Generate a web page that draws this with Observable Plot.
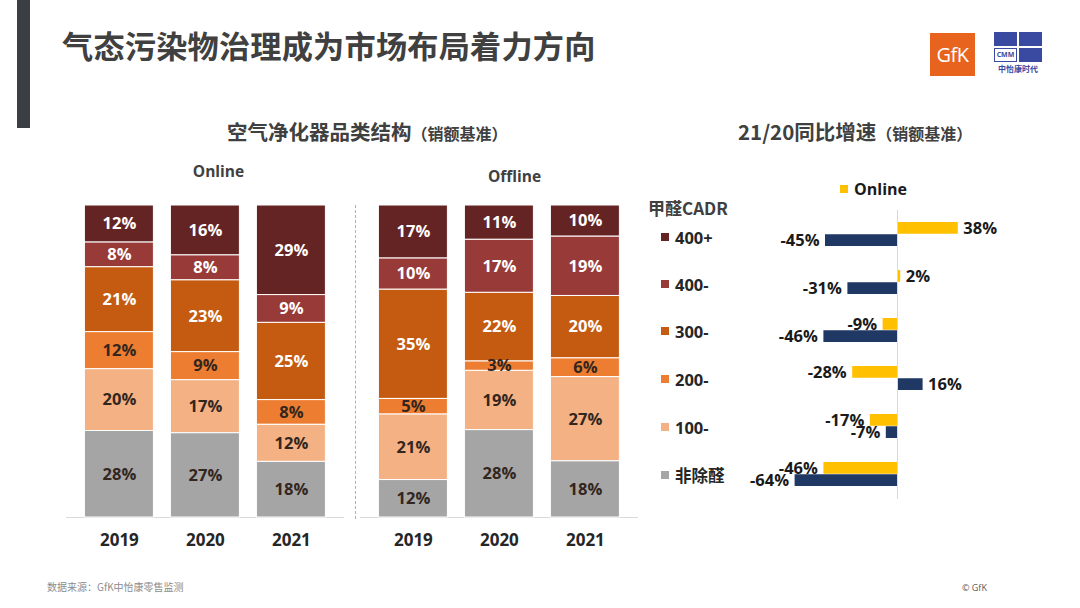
<!DOCTYPE html>
<html>
<head>
<meta charset="utf-8">
<script src="https://cdn.jsdelivr.net/npm/d3@7"></script>
<script src="https://cdn.jsdelivr.net/npm/@observablehq/plot@0.6"></script>
<style>
  html, body { margin: 0; padding: 0; background: #fff; }
  body { width: 1080px; height: 608px; position: relative; overflow: hidden;
         font-family: 'Open Sans', 'Noto Sans CJK SC', sans-serif; }
  .abs { position: absolute; }
  #sidebar { left: 17px; top: 0; width: 13px; height: 128px; background: #3b3e42; }
  #title { left: 62px; top: 22px; font-size: 31.2px; font-weight: 700; color: #404040; letter-spacing: 0.2px; white-space: nowrap;
           font-family: 'Noto Sans CJK SC', sans-serif; }
  .sub { font-family: 'Noto Sans CJK SC', sans-serif; font-weight: 700; color: #404040; white-space: nowrap;
         display: flex; align-items: baseline; line-height: 22px; }
  .sub .big { font-size: 20.5px; }
  .sub .small { font-size: 16px; }
  #legend { left: 648px; top: 196px; width: 100px; }
  .legtitle { font-family: 'Noto Sans CJK SC', sans-serif; font-weight: 700; font-size: 17px; color: #404040; position: absolute; left: 0; top: -1px; white-space: nowrap; }
  .legitem { position: absolute; left: 13px; height: 20px; display: flex; align-items: center; white-space: nowrap;
             font-weight: 700; font-size: 16.5px; color: #262626; }
  .legitem .sw { width: 8px; height: 8px; margin-right: 6px; }
  #sep { left: 355px; top: 205px; height: 314px; border-left: 1px dashed #b0b0b0; }
  #footer { left: 47px; top: 579px; font-size: 10px; color: #8c8c8c; font-family: 'Noto Sans CJK SC', sans-serif; }
  #copy { left: 962px; top: 581px; font-size: 9px; color: #595959; }
</style>
</head>
<body>
<div id="sidebar" class="abs"></div>
<div id="title" class="abs">气态污染物治理成为市场布局着力方向</div>
<div id="sub1" class="abs sub" style="left:227px; top:120px;"><span class="big">空气净化器品类结构</span><span class="small">（销额基准）</span></div>
<div id="sub2" class="abs sub" style="left:738px; top:120px;"><span class="big">21/20同比增速</span><span class="small">（销额基准）</span></div>

<!-- logos -->
<div class="abs" style="left:930px; top:33px; width:45px; height:43px; background:#e8641e; color:#fff; font-family:'Open Sans',sans-serif; font-size:20px; font-weight:400; display:flex; align-items:center; justify-content:center; letter-spacing:-0.5px;">GfK</div>
<div class="abs" style="left:994px; top:32px; width:48px; height:46px;">
  <div class="abs" style="left:0; top:0; width:23px; height:14px; background:#3a4aa0;"></div>
  <div class="abs" style="left:25px; top:0; width:23px; height:14px; background:#3a4aa0;"></div>
  <div class="abs" style="left:0; top:16px; width:21px; height:12px; border:1px solid #3a4aa0; font-size:7px; font-weight:700; color:#3a4aa0; text-align:center; line-height:12px;">CMM</div>
  <div class="abs" style="left:25px; top:16px; width:23px; height:14px; background:#3a4aa0;"></div>
  <div class="abs" style="left:0; top:32px; width:48px; font-size:8px; color:#3a4aa0; font-weight:700; text-align:center; font-family:'Noto Sans CJK SC',sans-serif; line-height:10px;">中怡康时代</div>
</div>

<div id="left" class="abs" style="left:0; top:150px;"></div>
<div id="sep" class="abs"></div>
<div id="legend" class="abs"></div>

<div class="abs" style="left:840px; top:178px; display:flex; align-items:center; font-weight:700; font-size:16px; color:#1a1a1a;">
  <div style="width:8px; height:8px; background:#ffc000; margin-right:6px;"></div>Online
</div>
<div id="right" class="abs" style="left:740px; top:195px;"></div>

<div id="footer" class="abs">数据来源：GfK中怡康零售监测</div>
<div id="copy" class="abs">© GfK</div>

<script>
// ---------------- data ----------------
const years = ["2019", "2020", "2021"];
const channels = ["Online", "Offline"];
const cadrCats = ["400+", "400-", "300-", "200-", "100-", "非除醛"];           // top to bottom
const cadrColors = ["#652424", "#983a38", "#c55a11", "#ed7d31", "#f4b183", "#a5a5a5"];
const darkLabelCats = ["200-", "100-", "非除醛"];

// shares (%) in cadrCats order
const online2019 = [12, 8, 21, 12, 20, 28];
const online2020 = [16, 8, 23, 9, 17, 27];
const online2021 = [29, 9, 25, 8, 12, 18];
const offline2019 = [17, 10, 35, 5, 21, 12];
const offline2020 = [11, 17, 22, 3, 19, 28];
const offline2021 = [10, 19, 20, 6, 27, 18];

// 21/20 growth (%) in cadrCats order
const growthOnline = [38, 2, -9, -28, -17, -46];
const growthOffline = [-45, -31, -46, 16, -7, -64];

const seriesNames = ["Online", "Offline"];
const seriesColors = ["#ffc000", "#1f3864"];

// ---------------- tables ----------------
const shareRows = [];
const shareSets = [
  ["Online", online2019, online2020, online2021],
  ["Offline", offline2019, offline2020, offline2021]
];
for (const [ch, ...ys] of shareSets) {
  ys.forEach((arr, yi) => {
    arr.forEach((v, ci) => shareRows.push({channel: ch, year: years[yi], cat: cadrCats[ci], value: v}));
  });
}
const growthRows = [];
cadrCats.forEach((c, i) => {
  growthRows.push({series: "Online", cat: c, value: growthOnline[i]});
  growthRows.push({series: "Offline", cat: c, value: growthOffline[i]});
});

const stackOrder = cadrCats.slice().reverse();
const font = "'Open Sans','Noto Sans CJK SC',sans-serif";

// ---------------- left: stacked 100% bars ----------------
const left = Plot.plot({
  width: 660,
  height: 410,
  marginTop: 55,
  marginBottom: 43,
  marginLeft: 65.6,
  marginRight: 22,
  style: {fontFamily: font, background: "transparent"},
  fx: {domain: channels, paddingInner: 0.0531, paddingOuter: 0, axis: null},
  x: {domain: years, padding: 0.2, axis: null},
  y: {domain: [0, 1], axis: null},
  color: {domain: cadrCats, range: cadrColors},
  marks: [
    Plot.ruleY([0], {stroke: "#d9d9d9", strokeWidth: 1}),
    Plot.barY(shareRows, Plot.stackY({offset: "normalize", order: stackOrder},
      {fx: "channel", x: "year", y: "value", fill: "cat", stroke: "white", strokeWidth: 1})),
    Plot.text(shareRows, Plot.stackY({offset: "normalize", order: stackOrder},
      {fx: "channel", x: "year", y: "value", z: "cat", text: d => d.value + "%",
       fill: d => darkLabelCats.includes(d.cat) ? "#33261e" : "#ffffff",
       fontSize: 16.5, fontWeight: "bold"})),
    Plot.axisX({fontSize: 17, fontWeight: "bold", tickSize: 0, tickPadding: 16, color: "#262626", label: null}),
    Plot.text(["Online"], {fx: d => d, text: d => d, frameAnchor: "top", lineAnchor: "middle", dy: -33, dx: 13,
      fontSize: 15.5, fontWeight: "bold", fill: "#404040"}),
    Plot.text(["Offline"], {fx: d => d, text: d => d, frameAnchor: "top", lineAnchor: "middle", dy: -28, dx: 15,
      fontSize: 15.5, fontWeight: "bold", fill: "#404040"})
  ]
});
document.getElementById("left").append(left);

// ---------------- legend ----------------
const leg = document.getElementById("legend");
const lt = document.createElement("div");
lt.className = "legtitle";
lt.textContent = "甲醛CADR";
leg.append(lt);
const rowTops = [31, 78, 125, 173, 221, 269];
cadrCats.forEach((c, i) => {
  const it = document.createElement("div");
  it.className = "legitem";
  it.style.top = rowTops[i] + "px";
  const sw = document.createElement("div");
  sw.className = "sw";
  sw.style.background = cadrColors[i];
  it.append(sw);
  const tx = document.createElement("span");
  tx.textContent = c;
  if (c === "非除醛") tx.style.fontFamily = "'Noto Sans CJK SC',sans-serif";
  it.append(tx);
  leg.append(it);
});

// ---------------- right: growth bars ----------------
const half = 294 / 6 * 0.5 / 2;
const labelMarks = [];
seriesNames.forEach((s, si) => {
  const rows = growthRows.filter(d => d.series === s);
  const dy = si === 0 ? -6 : 6;
  labelMarks.push(Plot.text(rows.filter(d => d.value >= 0), {x: "value", y: "cat", dy, dx: 5,
    text: d => d.value + "%", textAnchor: "start", fontSize: 16.5, fontWeight: "bold", fill: "#1a1a1a"}));
  labelMarks.push(Plot.text(rows.filter(d => d.value < 0), {x: "value", y: "cat", dy, dx: -6,
    text: d => d.value + "%", textAnchor: "end", fontSize: 16.5, fontWeight: "bold", fill: "#1a1a1a"}));
});
const right = Plot.plot({
  width: 260,
  height: 320,
  marginTop: 14.75,
  marginBottom: 16.25,
  marginLeft: 45,
  marginRight: 31,
  style: {fontFamily: font, background: "transparent"},
  x: {domain: [-70, 45], axis: null},
  y: {domain: cadrCats, paddingInner: 0.5, paddingOuter: 0.25, axis: null},
  marks: [
    Plot.barX(growthRows.filter(d => d.series === seriesNames[0]),
      {x: "value", y: "cat", fill: seriesColors[0], insetBottom: half}),
    Plot.barX(growthRows.filter(d => d.series === seriesNames[1]),
      {x: "value", y: "cat", fill: seriesColors[1], insetTop: half}),
    Plot.ruleX([0], {stroke: "#d9d9d9", strokeWidth: 1}),
    ...labelMarks
  ]
});
document.getElementById("right").append(right);
</script>
</body>
</html>
